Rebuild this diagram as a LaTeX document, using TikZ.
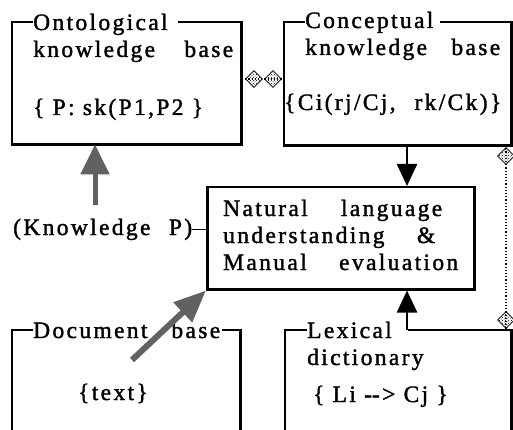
\documentclass[tikz,border=0pt]{standalone}
\usepackage{fontspec}
\setmainfont{Liberation Serif}[LetterSpace=10,FakeBold=1.5]
\usetikzlibrary{arrows.meta,shapes.geometric,patterns}
\newcommand{\spread}[2]{\makebox[#1][s]{#2}}
\begin{document}
\begin{tikzpicture}[x=1pt,y=-1pt,
  txt/.style={inner sep=0pt,anchor=base west,font=\fontsize{23.5}{28}\selectfont},
  area/.style={inner sep=0pt,anchor=north west},
  boxline/.style={line width=2.5pt},
  solidarrow/.style={line width=2.5pt,-{Triangle[width=20pt,length=22pt]}},
  hatcharrow/.style={line width=5pt,black!62,-{Triangle[width=28pt,length=30pt]}},
  dotlink/.style={line width=1.2pt,dotted},
  hatchmark/.style={diamond,draw=black,line width=0.7pt,pattern=crosshatch dots,inner sep=0pt,minimum size=17pt}]
  \useasboundingbox (0,0) rectangle (513,430);
  % box areas
  \node[area,minimum width=229pt,minimum height=122pt] (onto) at (12,22) {};
  \node[area,minimum width=227pt,minimum height=123pt] (conc) at (284,22) {};
  \node[area,draw,line width=2.5pt,minimum width=267pt,minimum height=102pt] (nlu) at (206,186) {};
  \node[area,minimum width=228pt,minimum height=110pt] (doc) at (12,330) {};
  \node[area,minimum width=226pt,minimum height=110pt] (lex) at (285,330) {};
  % titles
  \node[txt] (ontoT) at (33,30) {Ontological};
  \node[txt] (concT) at (305,28) {Conceptual};
  \node[txt] (docT) at (33,338) {\spread{187pt}{Document base}};
  \node[txt] (lexT) at (307,338) {Lexical};
  % outlines
  \draw[boxline] (ontoT.west |- onto.north) -- (onto.north west) -- (onto.south west)
    -- (onto.south east) -- (onto.north east) -- ([xshift=10pt]ontoT.east |- onto.north);
  \draw[boxline] (concT.west |- conc.north) -- (conc.north west) -- (conc.south west)
    -- (conc.south east) -- (conc.north east) -- ([xshift=6pt]concT.east |- conc.north);
  \draw[boxline] (docT.west |- doc.north) -- (doc.north west) -- (doc.south west);
  \draw[boxline] ([xshift=2pt]docT.east |- doc.north) -- (doc.north east) -- (doc.south east);
  \draw[boxline] (lexT.west |- lex.north) -- (lex.north west) -- (lex.south west);
  \draw[boxline] ([xshift=16pt]lexT.east |- lex.north) -- (lex.north east) -- (lex.south east);
  % texts
  \node[txt] (ontoL2) at (33,57) {\spread{200pt}{knowledge base}};
  \node[txt] (ontoL3) at (33,115) {\{ P: sk(P1,P2 \}};
  \node[txt] (concL2) at (305,55) {\spread{195pt}{knowledge base}};
  \node[txt] (concL3) at (284,110) {\spread{217pt}{\{Ci(rj/Cj, rk/Ck)\}}};
  \node[txt] (nluL1) at (223,216) {\spread{219pt}{Natural language}};
  \node[txt] (nluL2) at (223,243) {\spread{212pt}{understanding \&}};
  \node[txt] (nluL3) at (223,270) {\spread{235pt}{Manual evaluation}};
  \node[txt] (knowP) at (13,235) {\spread{179pt}{(Knowledge P)}};
  \node[txt] (docL2) at (78,400) {\{text\}};
  \node[txt] (lexL2) at (307,365) {dictionary};
  \node[txt] (lexL3) at (313,402) {\{ Li -\kern0pt-> Cj \}};
  % dotted links
  \coordinate (oc) at (242,79);
  \draw[dotlink] (oc) -- (conc.west |- oc);
  \node[hatchmark] (mk1) at (254,79) {};
  \node[hatchmark] (mk2) at (273,79) {};
  \coordinate (cl) at (506,145);
  \draw[dotlink] (cl) -- (cl |- lex.north);
  \node[hatchmark] (mk3) at (506,156) {};
  \node[hatchmark] (mk4) at (506,320) {};
  % arrows
  \coordinate (c2n) at (407,145);
  \draw[solidarrow] (c2n) -- (c2n |- nlu.north);
  \draw[solidarrow] (c2n |- lex.north) -- (c2n |- nlu.south);
  \coordinate (kArr) at (95,205);
  \draw[hatcharrow] (kArr) -- (kArr |- onto.south);
  \coordinate (dArr) at (132,360);
  \draw[hatcharrow,line width=6pt,-{Triangle[width=26pt,length=32pt]}] (dArr) -- (nlu.south west);
  \draw[line width=1.5pt] (knowP.east) -- (knowP.east -| nlu.west);
\end{tikzpicture}
\end{document}
